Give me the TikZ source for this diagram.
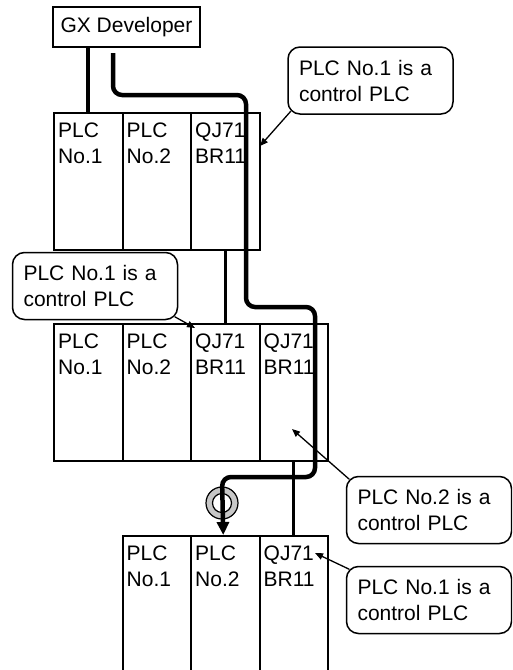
\documentclass[tikz,border=0pt]{standalone}
\usepackage{fontspec}
\setmainfont{Liberation Sans}
\usetikzlibrary{arrows.meta,calc}
\begin{document}
\begin{tikzpicture}[x=1pt,y=-1pt,
  font=\fontsize{21}{26}\selectfont,
  slot/.style={draw,line width=2pt,minimum width=68.5pt,minimum height=136.5pt,anchor=north west,inner sep=0pt},
  lowslot/.style={slot,minimum height=150pt},
  lbl/.style={anchor=north west,inner sep=0pt,align=left},
  callout/.style={draw,fill=white,line width=1.5pt,rounded corners=12pt,text width=143pt,inner xsep=11pt,inner ysep=0pt,minimum height=67pt,align=left},
  cable/.style={line width=3pt},
  route/.style={line width=4.5pt,rounded corners=9pt,-{Triangle[length=13pt,width=12pt]}},
  pointer/.style={line width=1.3pt,-{Triangle[length=8pt,width=6.5pt]}}
]
\clip (0,0) rectangle (512,670);
\fill[white] (0,0) rectangle (512,670);

% GX Developer
\node[draw,line width=1.5pt,minimum width=147pt,minimum height=40pt,inner sep=0pt] (gx) at (126.5,27) {GX Developer};

% Rack 1
\node[slot] (r1a) at (53,112) {};
\node[slot] (r1b) at (121.5,112) {};
\node[slot] (r1c) at (190,112) {};
% Rack 2
\node[slot] (r2a) at (53,323) {};
\node[slot] (r2b) at (121.5,323) {};
\node[slot] (r2c) at (190,323) {};
\node[slot] (r2d) at (258.5,323) {};
% Rack 3
\node[lowslot] (r3a) at (121.5,535) {};
\node[lowslot] (r3b) at (190,535) {};
\node[lowslot] (r3c) at (258.5,535) {};

% Slot labels
\foreach \s/\t in {r1a/{PLC\\No.1}, r1b/{PLC\\No.2}, r1c/{QJ71\\BR11},
                   r2a/{PLC\\No.1}, r2b/{PLC\\No.2}, r2c/{QJ71\\BR11}, r2d/{QJ71\\BR11},
                   r3a/{PLC\\No.1}, r3b/{PLC\\No.2}, r3c/{QJ71\\BR11}}
  \node[lbl] at ($(\s.north west)+(5,11)$) {\t};

% Cables
\draw[line width=4pt] (r1a.north |- gx.south) -- (r1a.north);
\draw[cable] (r1c.south) -- (r2c.north);
\draw[cable] (r2d.south) -- (r3c.north);

% Marker circle
\node[circle,draw,line width=1.2pt,fill=black!22,minimum size=32pt,inner sep=0pt] (ring) at (222,503) {};
\node[circle,draw,line width=1.2pt,fill=white,minimum size=19pt,inner sep=0pt] (hole) at (ring.center) {};

% Route
\coordinate (rs) at (113,53);
\draw[route] (rs) |- (246,95) |- (315,307) |- (222,477) -- ($(r3b.north)+(-2,0)$);

% Callouts
\node[callout] (c1) at (370.5,80.5) {PLC No.1 is a\\control PLC};
\node[callout] (c2) at (95,286) {PLC No.1 is a\\control PLC};
\node[callout] (c3) at (429,510) {PLC No.2 is a\\control PLC};
\node[callout] (c4) at (429,600) {PLC No.1 is a\\control PLC};

\coordinate (t1) at (260,146);
\coordinate (t2) at (195,328);
\coordinate (t3) at (292,429);
\coordinate (t4) at (315,553);

\draw[pointer] ($(c1.south west)+(3.5,-3.5)$) -- (t1);
\draw[pointer] ($(c2.south east)+(-3.5,-3.5)$) -- (t2);
\draw[pointer] ($(c3.north west)+(3.5,3.5)$) -- (t3);
\draw[pointer] ($(c4.north west)+(3.5,3.5)$) -- (t4);
\end{tikzpicture}
\end{document}
